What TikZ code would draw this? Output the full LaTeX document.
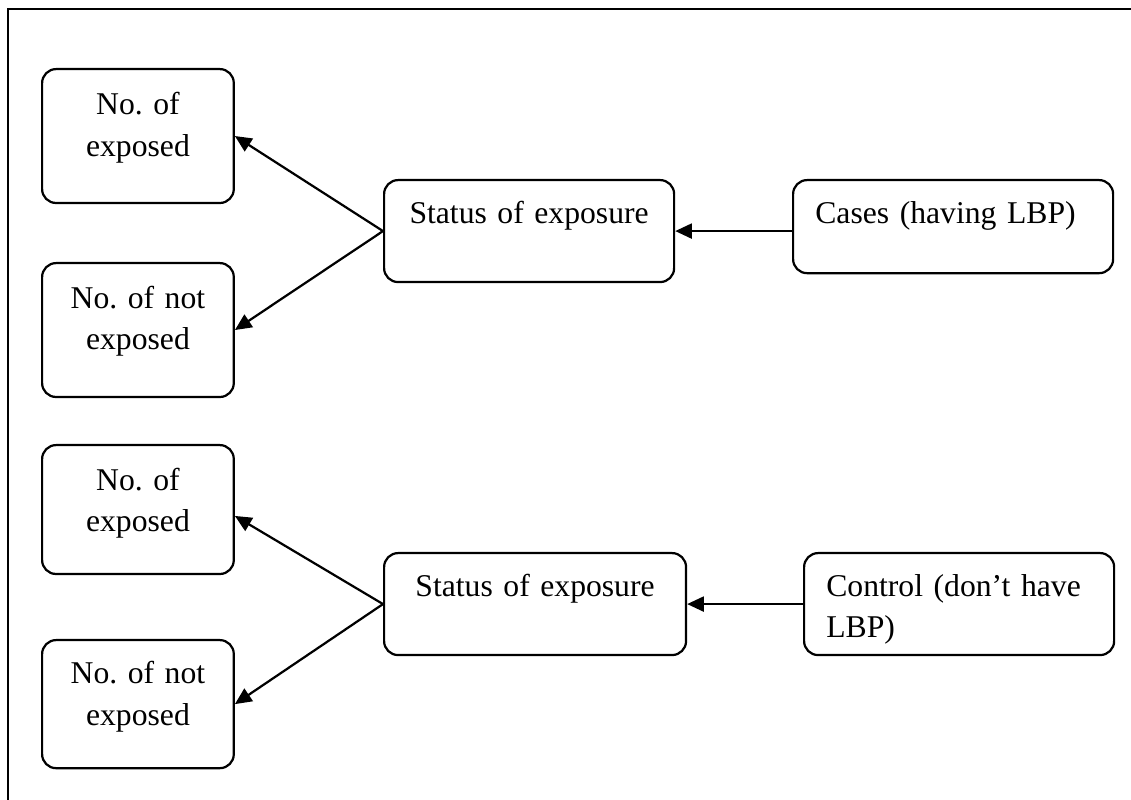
\documentclass[tikz,border=0pt]{standalone}
\usepackage{fontspec}
\setmainfont{Liberation Serif}
\usetikzlibrary{arrows.meta}
\frenchspacing

\begin{document}
\begin{tikzpicture}[x=.36pt,y=-.36pt,line width=.8pt,
    box/.style={draw,rounded corners=5pt,anchor=north west,inner xsep=0pt,
      inner ysep=0pt,align=center,font=\fontsize{11.4pt}{14.8pt}\selectfont},
    lbox/.style={box,align=left,inner xsep=8pt},
    arr/.style={-{Triangle[length=6pt,width=5.4pt]}}]
  \useasboundingbox (0,0) rectangle (1131,800);
  \draw (8,800) -- (8,9) -- (1131,9);

  % cases
  \node[box,text width=69pt,text height=16.5pt,text depth=31.7pt] (expA) at (41,68) {No. of\\exposed};
  \node[box,text width=69pt,text height=16.2pt,text depth=32pt] (notA) at (41,262) {No. of not\\exposed};
  \node[box,text width=104.4pt,text height=15.8pt,text depth=20.9pt] (statA) at (383,179) {Status of exposure};
  \node[lbox,text width=99.2pt,text height=15.8pt,text depth=17.7pt] (casesA) at (792,179) {Cases (having LBP)};

  \draw[arr] (statA.west) -- (expA.east);
  \draw[arr] (statA.west) -- (notA.east);
  \draw[arr] (casesA.west |- statA.east) -- (statA.east);

  % controls
  \node[box,text width=69pt,text height=16.2pt,text depth=30.2pt] (expB) at (41,444) {No. of\\exposed};
  \node[box,text width=69pt,text height=15.8pt,text depth=30.3pt] (notB) at (41,639) {No. of not\\exposed};
  \node[box,text width=108.7pt,text height=15.5pt,text depth=21.2pt] (statB) at (383,552) {Status of exposure};
  \node[lbox,text width=95.6pt,text height=15.5pt,text depth=21.2pt] (ctrlB) at (803,552) {Control (don’t have\\LBP)};

  \draw[arr] (statB.west) -- ([yshift=-2.3pt]expB.east);
  \draw[arr] (statB.west) -- (notB.east);
  \draw[arr] (ctrlB.west |- statB.east) -- (statB.east);
\end{tikzpicture}
\end{document}
